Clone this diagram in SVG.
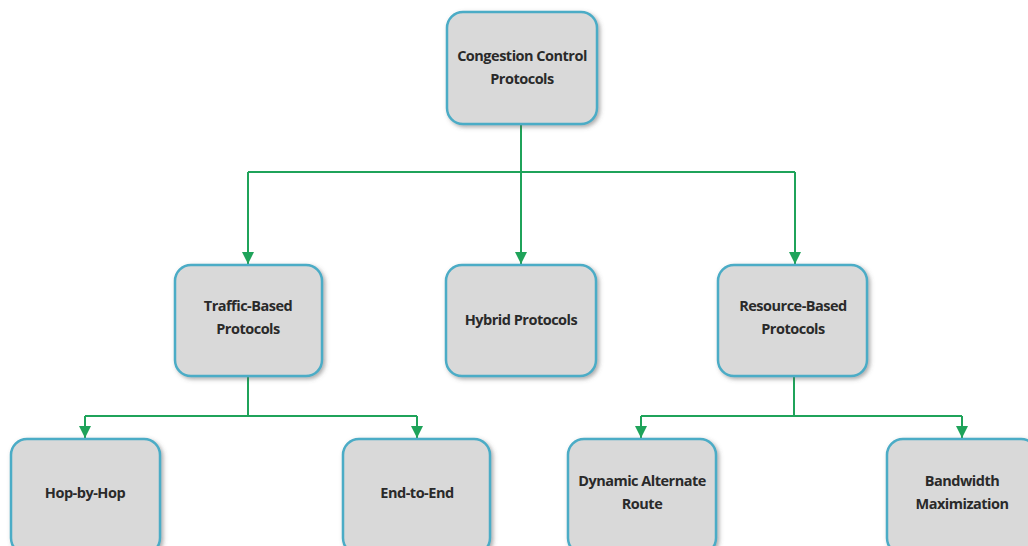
<svg xmlns="http://www.w3.org/2000/svg" width="1028" height="546" viewBox="0 0 1028 546">
<defs>
<marker id="arr" markerWidth="12" markerHeight="12" refX="10" refY="5" orient="auto" markerUnits="userSpaceOnUse" viewBox="0 0 10 10">
<path d="M0,0 L10,5 L0,10 Z" fill="#1fa35a"/>
</marker>
<filter id="sh" x="-10%" y="-10%" width="130%" height="130%">
<feDropShadow dx="2" dy="2" stdDeviation="2" flood-color="#555" flood-opacity="0.5"/>
</filter>
</defs>
<style>
.box{fill:#d9d9d9;stroke:#4bacc6;stroke-width:2.5;filter:url(#sh)}
.t{font-family:"Open Sans","Liberation Sans",sans-serif;font-weight:bold;font-size:14.5px;fill:#2a2a2a;text-anchor:middle;letter-spacing:-0.5px}
.c{fill:none;stroke:#1fa35a;stroke-width:2}
</style>
<rect width="1028" height="546" fill="#fff"/>
<g id="connectors">
<path class="c" d="M521,124 V172 M248,172 H795"/>
<path class="c" d="M248,172 V264" marker-end="url(#arr)"/>
<path class="c" d="M521,172 V264" marker-end="url(#arr)"/>
<path class="c" d="M795,172 V264" marker-end="url(#arr)"/>
<path class="c" d="M248,376 V416 M85,416 H417"/>
<path class="c" d="M85,416 V438" marker-end="url(#arr)"/>
<path class="c" d="M417,416 V438" marker-end="url(#arr)"/>
<path class="c" d="M794,376 V416 M641,416 H962"/>
<path class="c" d="M641,416 V438" marker-end="url(#arr)"/>
<path class="c" d="M962,416 V438" marker-end="url(#arr)"/>
</g>
<g id="n-root"><rect class="box" x="447" y="12" width="150" height="112" rx="16"/><text class="t" x="522" y="61">Congestion Control</text><text class="t" x="522" y="84">Protocols</text></g>
<g id="n-traffic"><rect class="box" x="175" y="265" width="147" height="111" rx="16"/><text class="t" x="248" y="311">Traffic-Based</text><text class="t" x="248" y="334">Protocols</text></g>
<g id="n-hybrid"><rect class="box" x="446" y="265" width="150" height="111" rx="16"/><text class="t" x="521" y="325">Hybrid Protocols</text></g>
<g id="n-resource"><rect class="box" x="718" y="265" width="149" height="111" rx="16"/><text class="t" x="793" y="311">Resource-Based</text><text class="t" x="793" y="334">Protocols</text></g>
<g id="n-hop"><rect class="box" x="11" y="439" width="149" height="115" rx="16"/><text class="t" x="85" y="498">Hop-by-Hop</text></g>
<g id="n-end"><rect class="box" x="343" y="439" width="147" height="115" rx="16"/><text class="t" x="417" y="498">End-to-End</text></g>
<g id="n-dyn"><rect class="box" x="568" y="439" width="148" height="115" rx="16"/><text class="t" x="642" y="486">Dynamic Alternate</text><text class="t" x="642" y="509">Route</text></g>
<g id="n-bw"><rect class="box" x="887" y="439" width="150" height="115" rx="16"/><text class="t" x="962" y="486">Bandwidth</text><text class="t" x="962" y="509">Maximization</text></g>
</svg>
